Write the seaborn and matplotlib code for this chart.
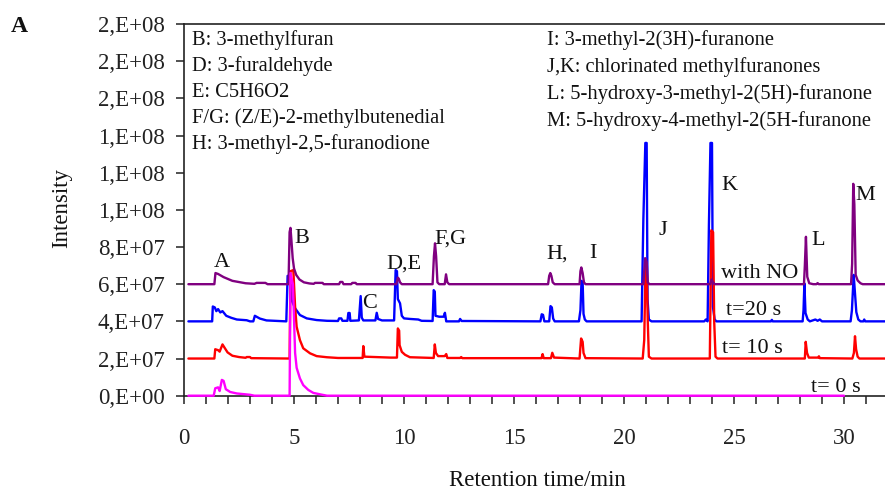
import matplotlib
matplotlib.use("Agg")
import matplotlib.pyplot as plt
import numpy as np
import pandas as pd
import seaborn as sns

# ---------------- data (intensity in units of 1e7) ----------------
no_t = [0.2, 1.38, 1.43, 1.55, 1.8, 2.2, 2.8, 3.2, 3.3, 3.7, 3.8, 4.75, 4.80, 4.84, 4.88, 4.94,
        5.0, 5.1, 5.25, 5.45, 5.7, 5.9, 5.95, 6.3, 6.35, 7.05, 7.1, 7.2, 7.25, 7.6, 7.65, 7.8, 7.85,
        9.65, 9.72, 9.76, 9.82, 9.9, 11.30, 11.36, 11.41, 11.46, 11.52, 11.6, 11.85, 11.91, 11.97, 12.05,
        16.55, 16.6, 16.65, 16.7, 16.76, 16.85, 17.98, 18.02, 18.06, 18.12, 18.18, 18.25,
        20.88, 20.96, 21.03, 21.08, 21.15, 23.92, 23.98, 24.05, 24.12,
        28.18, 28.22, 28.27, 28.33, 28.42, 28.6, 28.75, 28.8, 28.85,
        30.32, 30.37, 30.42, 30.47, 30.53, 30.62, 30.75, 30.85, 31.9]
no_v = [6.0, 6.0, 6.6, 6.55, 6.38, 6.18, 6.05, 6.02, 6.07, 6.07, 6.0, 6.0, 8.8, 9.03, 8.4, 7.4,
        6.85, 6.5, 6.25, 6.1, 6.04, 6.02, 6.07, 6.07, 6.0, 6.0, 6.12, 6.12, 6.0, 6.0, 6.07, 6.07, 6.0,
        6.0, 6.35, 6.3, 6.1, 6.0, 6.0, 7.5, 8.2, 7.5, 6.1, 6.0, 6.0, 6.53, 6.1, 6.0,
        6.0, 6.45, 6.6, 6.45, 6.1, 6.0, 6.0, 6.7, 6.9, 6.6, 6.1, 6.0,
        6.0, 7.4, 7.2, 6.1, 6.0, 6.0, 6.25, 6.1, 6.0,
        6.0, 7.0, 8.55, 6.4, 6.05, 6.0, 6.0, 6.06, 6.0,
        6.0, 7.1, 11.4, 10.3, 6.5, 6.2, 6.05, 6.0, 6.0]

t20_t = [0.2, 1.28, 1.31, 1.40, 1.47, 1.55, 1.65, 1.75, 1.92, 2.15, 2.4, 2.85, 3.0, 3.15, 3.22, 3.45,
         3.75, 4.65, 4.71, 4.85, 4.89, 5.05, 5.27, 5.58, 6.03, 6.5, 7.0, 7.05, 7.15, 7.2, 7.43, 7.47,
         7.53, 7.56, 7.95, 8.03, 8.08, 8.15, 8.7, 8.76, 8.82, 9.0, 9.55, 9.62, 9.68, 9.72, 9.82, 9.9,
         10.0, 10.27, 10.65, 10.8, 11.3, 11.35, 11.40, 11.43, 11.6, 11.8, 11.86, 11.92, 12.5, 12.55,
         12.62, 16.2, 16.26, 16.32, 16.38, 16.6, 16.66, 16.72, 16.78, 16.85, 17.95, 18.02, 18.07,
         18.12, 18.16, 18.22, 18.3, 20.80, 20.88, 20.97, 21.03, 21.07, 21.13, 21.25, 23.65, 23.72,
         23.80, 23.86, 23.93, 24.00, 24.04, 24.12, 24.2, 26.68, 26.72, 26.76, 28.12, 28.16, 28.2,
         28.25, 28.35, 28.45, 28.7, 28.8, 28.9, 29.0, 30.3, 30.36, 30.44, 30.5, 30.56, 30.65, 30.75,
         30.88, 30.92, 30.96, 31.9]
t20_v = [4.0, 4.0, 4.8, 4.75, 4.55, 4.66, 4.48, 4.55, 4.3, 4.19, 4.1, 4.06, 4.0, 4.0, 4.3, 4.15,
         4.05, 4.0, 6.45, 6.4, 5.15, 4.7, 4.34, 4.16, 4.07, 4.03, 4.02, 4.16, 4.16, 4.03, 4.03, 4.45,
         4.45, 4.03, 4.05, 5.36, 4.2, 4.05, 4.05, 4.46, 4.13, 4.05, 4.05, 6.76, 6.7, 5.2, 4.97, 4.3,
         4.16, 4.13, 4.1, 4.03, 4.02, 5.68, 5.6, 4.3, 4.25, 4.25, 4.46, 4.0, 4.0, 4.13,
         4.02, 4.0, 4.38, 4.35, 4.0, 4.0, 4.82, 4.75, 4.15, 4.0, 4.0, 4.6, 6.18,
         6.1, 4.4, 4.1, 4.0, 4.0, 9.5, 13.6, 13.6, 5.2, 4.1, 4.0, 4.0, 4.1,
         4.0, 9.2, 13.6, 13.6, 4.8, 4.1, 4.0, 4.0, 4.08, 4.0, 4.0, 4.6, 6.04,
         4.45, 4.1, 4.0, 4.1, 4.03, 4.1, 4.0, 4.0, 4.6, 6.5, 5.5, 4.5, 4.1, 4.0,
         4.0, 4.1, 4.0, 4.0]

t10_t = [0.2, 1.38, 1.42, 1.55, 1.62, 1.75, 1.85, 1.98, 2.2, 2.5, 2.8, 2.85, 3.0, 3.05, 4.80, 4.84,
         4.97, 5.05, 5.12, 5.27, 5.42, 5.73, 6.03, 6.49, 7.0, 8.12, 8.15, 8.2, 9.4, 9.68, 9.72, 9.78,
         9.8, 9.9, 10.05, 10.27, 11.35, 11.4, 11.45, 11.55, 11.85, 11.92, 11.97, 12.55, 12.6, 12.65,
         16.25, 16.3, 16.35, 16.68, 16.74, 16.82, 17.98, 18.05, 18.12, 18.16, 18.25, 20.85, 20.92,
         20.98, 21.03, 21.08, 21.13, 21.25, 23.90, 23.97, 24.05, 24.10, 24.16, 24.25, 28.22, 28.26,
         28.32, 28.4, 28.82, 28.86, 28.9, 30.38, 30.45, 30.5, 30.55, 30.62, 30.7, 31.9]
t10_v = [2.0, 2.0, 2.5, 2.45, 2.37, 2.76, 2.57, 2.33, 2.15, 2.08, 2.04, 2.08, 2.08, 2.02, 2.0, 6.7,
         6.76, 4.79, 3.71, 2.99, 2.55, 2.28, 2.13, 2.07, 2.03, 2.03, 2.67, 2.1, 2.05, 2.05, 3.62, 3.5,
         2.72, 2.36, 2.2, 2.07, 2.03, 2.76, 2.3, 2.13, 2.13, 2.24, 2.03, 2.03, 2.08, 2.02,
         2.02, 2.24, 2.02, 2.02, 2.31, 2.05, 2.0, 3.08, 2.9, 2.3, 2.02, 2.0, 3.0,
         7.1, 7.0, 4.0, 2.1, 2.0, 2.0, 8.9, 8.8, 4.0, 2.1, 2.0, 2.0, 2.9,
         2.3, 2.05, 2.05, 2.12, 2.02, 2.0, 2.3, 3.2, 2.5, 2.1, 2.0, 2.0]

t0_t = [0.2, 1.35, 1.42, 1.55, 1.62, 1.72, 1.80, 1.9, 2.1, 2.4, 3.0, 3.2, 4.80, 4.84, 4.95, 5.05,
        5.12, 5.27, 5.42, 5.65, 5.88, 6.2, 6.5, 30.0]
t0_v = [0.0, 0.0, 0.4, 0.45, 0.25, 0.85, 0.8, 0.35, 0.2, 0.12, 0.05, 0.0, 0.0, 6.6, 6.0, 2.3,
        1.5, 0.93, 0.57, 0.31, 0.15, 0.07, 0.0, 0.0]

y_ticks = [0, 2, 4, 6, 8, 10, 12, 14, 16, 18, 20]
y_tick_labels = ["0,E+00", "2,E+07", "4,E+07", "6,E+07", "8,E+07", "1,E+08",
                 "1,E+08", "1,E+08", "2,E+08", "2,E+08", "2,E+08"]
x_ticks = [0, 5, 10, 15, 20, 25, 30]

legend_left = ["B: 3-methylfuran", "D: 3-furaldehyde", "E: C5H6O2",
               "F/G: (Z/E)-2-methylbutenedial", "H: 3-methyl-2,5-furanodione"]
legend_right = ["I: 3-methyl-2(3H)-furanone", "J,K: chlorinated methylfuranones",
                "L: 5-hydroxy-3-methyl-2(5H)-furanone", "M: 5-hydroxy-4-methyl-2(5H-furanone"]

# ---------------- style ----------------
sns.set_style("ticks")
plt.rcParams['font.family'] = ['Liberation Serif', 'DejaVu Serif']
W, H = 885, 492
fig = plt.figure(figsize=(W / 100, H / 100), dpi=100)
y0_px, ytop_px, x0_px = 395.7, 24.0, 184.0
ax = fig.add_axes([x0_px / W, (H - y0_px) / H, (W - x0_px) / W, (y0_px - ytop_px) / H])

traces = [
    ("t= 0 s", t0_t, t0_v, "#FF00FF"),
    ("t=20 s", t20_t, t20_v, "#0000FF"),
    ("t= 10 s", t10_t, t10_v, "#FF0000"),
    ("with NO", no_t, no_v, "#800080"),
]
for name, tt, vv, col in traces:
    df = pd.DataFrame({"time": tt, "intensity": vv})
    sns.lineplot(data=df, x="time", y="intensity", ax=ax, color=col, lw=1.7,
                 sort=False, estimator=None, legend=False)
    ln = ax.lines[-1]
    ln.set_clip_on(False)
    if name == "t= 0 s":
        ln.set_zorder(3)

ax.set_xlim(0, (W - x0_px) / 22.0)
ax.set_ylim(0, 20)
ax.set_xticks(x_ticks)
ax.set_xticks(np.arange(0, 32, 1), minor=True)
ax.set_yticks(y_ticks)
ax.set_yticklabels(y_tick_labels)
ax.set_xlabel("")
ax.set_ylabel("")
for s in ["top", "left", "bottom"]:
    ax.spines[s].set_color("#222222")
    ax.spines[s].set_linewidth(1.2)
ax.spines["right"].set_visible(False)
ax.tick_params(axis="both", which="both", direction="out", length=6, width=1.1,
               color="#222222", labelsize=16.5, labelcolor="#222222")
ax.tick_params(axis="y", pad=8)
ax.tick_params(axis="x", which="both", pad=17)

# peak labels (baseline positions, data coords)
peak_labels = [("A", 1.71, 6.94), ("B", 5.37, 8.19), ("C", 8.45, 4.70), ("D,E", 10.0, 6.85),
               ("F,G", 12.13, 8.19), ("H,", 16.98, 7.39), ("I", 18.57, 7.39), ("J", 21.77, 8.64),
               ("K", 24.77, 11.06), ("L", 28.83, 8.10), ("M", 30.95, 10.52),
               ("with NO", 26.18, 6.31), ("t=20 s", 25.88, 4.34), ("t= 10 s", 25.84, 2.28),
               ("t= 0 s", 29.65, 0.22)]
for txt, x, y in peak_labels:
    ax.text(x, y, txt, ha="center", va="baseline", fontsize=16, color="#111111", zorder=5)

for i, s in enumerate(legend_left):
    fig.text(192.5 / W, 1 - (45 + 26 * i) / H, s, ha="left", va="baseline",
             fontsize=14.8, color="#111111")
for i, s in enumerate(legend_right):
    fig.text(547 / W, 1 - (45 + 27 * i) / H, s, ha="left", va="baseline",
             fontsize=14.8, color="#111111")

fig.text(62 / W, 1 - 208 / H, "Intensity", rotation=90, ha="center", va="center",
         fontsize=16.5, color="#111111")
fig.text(537 / W, 1 - 481 / H, "Retention time/min", ha="center", va="center",
         fontsize=16.5, color="#111111")
fig.text(19 / W, 1 - 27 / H, "A", ha="center", va="center", fontsize=17,
         fontweight="bold", color="#111111")

fig.savefig("out.png", dpi=100)
